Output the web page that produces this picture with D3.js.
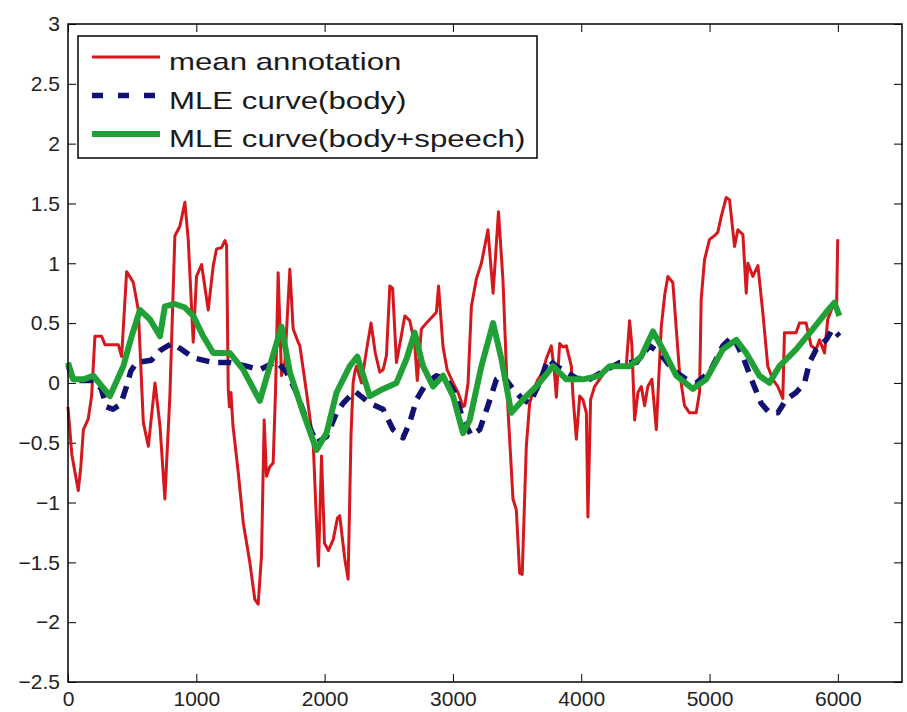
<!DOCTYPE html>
<html>
<head>
<meta charset="utf-8">
<script src="https://cdn.jsdelivr.net/npm/d3@7"></script>
<style>
  body { margin: 0; background: #fff; }
  svg { display: block; }
</style>
</head>
<body>
<svg width="907" height="712"></svg>
<script>
// x positions (frames) and values
var annotT = [0, 30, 80, 100, 120, 158, 184, 210, 262, 288, 392, 418, 457, 509, 548, 587, 626, 678, 717, 755, 794, 833, 872, 911, 937, 976,
    1002, 1041, 1093, 1132, 1158, 1197, 1223, 1236, 1249, 1258, 1270, 1285, 1327, 1366, 1417, 1456, 1482, 1508, 1529, 1547, 1573, 1599,
    1618, 1638, 1664, 1690, 1729, 1755, 1794, 1807, 1859, 1911, 1937, 1952, 1976, 1999, 2030, 2067, 2100, 2118, 2157, 2183, 2206, 2222,
    2235, 2248, 2287, 2326, 2362, 2395, 2430, 2456, 2482, 2508, 2530, 2560, 2599, 2625, 2664, 2702, 2722, 2754, 2793, 2845, 2871, 2888,
    2923, 2955, 3001, 3040, 3079, 3092, 3118, 3144, 3183, 3222, 3273, 3313, 3355, 3390, 3429, 3468, 3494, 3520, 3540, 3572, 3598, 3630,
    3663, 3702, 3727, 3767, 3790, 3806, 3832, 3858, 3884, 3923, 3936, 3962, 3988, 4013, 4040, 4052, 4073, 4104, 4143, 4182, 4234, 4286,
    4351, 4377, 4395, 4416, 4442, 4468, 4494, 4519, 4551, 4585, 4624, 4650, 4675, 4714, 4741, 4766, 4805, 4844, 4896, 4922, 4935, 4961,
    5000, 5039, 5065, 5091, 5130, 5156, 5195, 5221, 5260, 5286, 5299, 5338, 5377, 5415, 5454, 5493, 5532, 5571, 5584, 5623, 5675, 5701,
    5753, 5792, 5831, 5857, 5896, 5921, 5960, 5990, 5999];
var annotV = [-0.2, -0.6, -0.9, -0.7, -0.39, -0.3, -0.11, 0.39, 0.39, 0.32, 0.32, 0.22, 0.93, 0.84, 0.61, -0.33, -0.53, 0.0, -0.36, -0.97, -0.11, 1.23, 1.31, 1.51, 1.2, 0.34,
    0.89, 0.99, 0.61, 0.98, 1.12, 1.13, 1.19, 1.15, -0.05, -0.2, -0.08, -0.35, -0.75, -1.17, -1.5, -1.81, -1.85, -1.45, -0.31, -0.78, -0.7, -0.67,
    -0.05, 0.92, 0.06, 0.17, 0.95, 0.45, 0.34, 0.31, -0.08, -0.5, -1.17, -1.53, -0.61, -1.34, -1.4, -1.31, -1.13, -1.11, -1.47, -1.64, -0.43, 0.0,
    0.09, 0.14, 0.0, 0.27, 0.5, 0.25, 0.09, 0.11, 0.23, 0.81, 0.79, 0.17, 0.4, 0.56, 0.52, 0.33, 0.02, 0.45, 0.5, 0.56, 0.59, 0.81,
    0.3, 0.11, 0.0, -0.08, -0.2, -0.19, 0.0, 0.64, 0.87, 1.0, 1.28, 0.75, 1.43, 0.86, -0.22, -0.97, -1.06, -1.59, -1.6, -0.53, -0.17, -0.05,
    0.03, 0.09, 0.2, 0.31, 0.1, -0.12, 0.33, 0.3, 0.31, 0.14, -0.11, -0.47, -0.11, -0.14, -0.25, -1.12, -0.14, -0.03, 0.03, 0.09, 0.14, 0.14,
    0.14, 0.52, 0.31, -0.31, -0.08, -0.03, -0.19, -0.03, 0.03, -0.39, 0.47, 0.73, 0.89, 0.84, 0.45, 0.09, -0.19, -0.25, -0.25, -0.08, 0.7, 1.03,
    1.2, 1.23, 1.26, 1.39, 1.55, 1.53, 1.14, 1.28, 1.24, 0.75, 1.0, 0.89, 0.98, 0.59, 0.14, 0.03, -0.03, -0.13, 0.42, 0.42, 0.42, 0.5,
    0.5, 0.31, 0.28, 0.36, 0.25, 0.53, 0.64, 0.62, 1.2];

var bodyT = [0, 40, 100, 200, 260, 300, 350, 410, 450, 490, 535, 650, 717, 808, 886, 976, 1132, 1262, 1392, 1495, 1625, 1703, 1781, 1859,
    1937, 2015, 2093, 2144, 2235, 2352, 2456, 2533, 2611, 2664, 2716, 2794, 2871, 2949, 3014, 3079, 3144, 3209, 3273, 3339, 3390, 3468,
    3546, 3598, 3676, 3741, 3806, 3884, 3962, 4065, 4143, 4299, 4429, 4533, 4611, 4714, 4818, 4896, 5000, 5104, 5182, 5260, 5338, 5402,
    5467, 5532, 5597, 5675, 5740, 5779, 5831, 5909, 5960, 6012];
var bodyV = [0.15, 0.03, 0.02, 0.02, -0.05, -0.2, -0.22, -0.18, -0.05, 0.1, 0.17, 0.19, 0.27, 0.33, 0.28, 0.21, 0.17, 0.17, 0.14, 0.11, 0.18, 0.09, -0.08, -0.31,
    -0.5, -0.45, -0.25, -0.17, -0.07, -0.17, -0.22, -0.39, -0.46, -0.33, -0.14, 0.0, 0.06, 0.03, -0.08, -0.31, -0.44, -0.39, -0.19, 0.03, 0.06, -0.05,
    -0.14, -0.17, 0.0, 0.2, 0.14, 0.09, 0.04, 0.03, 0.08, 0.17, 0.17, 0.31, 0.25, 0.11, 0.03, 0.0, 0.09, 0.31, 0.39, 0.22, 0.0, -0.17,
    -0.25, -0.25, -0.14, -0.08, 0.0, 0.17, 0.28, 0.36, 0.45, 0.39];

var speechT = [0, 41, 120, 197, 327, 431, 496, 561, 639, 717, 755, 833, 911, 976, 1054, 1132, 1262, 1366, 1495, 1573, 1664, 1729, 1833, 1937,
    2015, 2093, 2196, 2255, 2352, 2456, 2560, 2638, 2702, 2767, 2845, 2923, 3001, 3079, 3131, 3222, 3313, 3378, 3455, 3546, 3650, 3780,
    3884, 4013, 4143, 4221, 4377, 4468, 4559, 4637, 4741, 4870, 4974, 5104, 5208, 5286, 5389, 5467, 5545, 5675, 5805, 5909, 5973, 6012];
var speechV = [0.17, 0.03, 0.03, 0.06, -0.11, 0.14, 0.39, 0.61, 0.53, 0.39, 0.64, 0.66, 0.63, 0.56, 0.39, 0.25, 0.25, 0.11, -0.15, 0.14, 0.47, 0.09, -0.25, -0.56,
    -0.42, -0.08, 0.14, 0.22, -0.11, -0.05, 0.0, 0.2, 0.42, 0.14, -0.03, 0.06, -0.11, -0.42, -0.31, 0.14, 0.5, 0.2, -0.25, -0.14, -0.03, 0.14,
    0.03, 0.03, 0.06, 0.14, 0.14, 0.22, 0.43, 0.28, 0.06, -0.05, 0.03, 0.28, 0.36, 0.25, 0.06, 0.0, 0.14, 0.28, 0.45, 0.59, 0.67, 0.56];

var xTicks = [0, 1000, 2000, 3000, 4000, 5000, 6000];
var yTicks = [-2.5, -2, -1.5, -1, -0.5, 0, 0.5, 1, 1.5, 2, 2.5, 3];
var yTickLabels = ["\u22122.5", "\u22122", "\u22121.5", "\u22121", "\u22120.5", "0", "0.5", "1", "1.5", "2", "2.5", "3"];

var seriesNames = ["mean annotation", "MLE curve(body)", "MLE curve(body+speech)"];

var svg = d3.select("svg"),
    margin = {top: 24, right: 5, bottom: 30, left: 68},
    width = +svg.attr("width") - margin.left - margin.right,
    height = +svg.attr("height") - margin.top - margin.bottom,
    g = svg.append("g").attr("transform", "translate(" + margin.left + "," + margin.top + ")");

var x = d3.scaleLinear().domain([0, 6500]).range([0, width]),
    y = d3.scaleLinear().domain([-2.5, 3]).range([height, 0]);

var fontFamily = "'Liberation Sans', Arial, Helvetica, sans-serif";

g.append("rect")
    .attr("width", width)
    .attr("height", height)
    .attr("fill", "#fff");

function styleAxis(sel) {
    sel.select(".domain").remove();
    sel.selectAll(".tick line").attr("stroke", "#000").attr("stroke-width", 1);
    sel.selectAll(".tick text")
        .attr("fill", "#222")
        .style("font-family", fontFamily)
        .style("font-size", "21px");
}

g.append("g")
    .attr("transform", "translate(0," + height + ")")
    .call(d3.axisBottom(x).tickValues(xTicks).tickFormat(d3.format("d")).tickSizeInner(-8).tickSizeOuter(0).tickPadding(9))
    .call(styleAxis);

g.append("g")
    .call(d3.axisTop(x).tickValues(xTicks).tickFormat("").tickSizeInner(-8).tickSizeOuter(0))
    .call(styleAxis);

g.append("g")
    .call(d3.axisLeft(y).tickValues(yTicks).tickFormat(function(d, i) { return yTickLabels[i]; })
        .tickSizeInner(-8).tickSizeOuter(0).tickPadding(8))
    .call(styleAxis);

g.append("g")
    .attr("transform", "translate(" + width + ",0)")
    .call(d3.axisRight(y).tickValues(yTicks).tickFormat("").tickSizeInner(-8).tickSizeOuter(0))
    .call(styleAxis);

function toPoints(ts, vs) {
    return ts.map(function(t, i) { return {t: t, v: vs[i]}; });
}

var line = d3.line()
    .x(function(d) { return x(d.t); })
    .y(function(d) { return y(d.v); });

var series = [
    {id: seriesNames[0], values: toPoints(annotT, annotV), color: "#d4181c", width: 3, dash: null},
    {id: seriesNames[1], values: toPoints(bodyT, bodyV), color: "#111173", width: 5.5, dash: "13,9"},
    {id: seriesNames[2], values: toPoints(speechT, speechV), color: "#21a035", width: 6, dash: null}
];

g.selectAll(".series")
    .data(series)
    .enter().append("path")
    .attr("class", "series")
    .attr("fill", "none")
    .attr("stroke", function(d) { return d.color; })
    .attr("stroke-width", function(d) { return d.width; })
    .attr("stroke-dasharray", function(d) { return d.dash; })
    .attr("stroke-linejoin", "round")
    .attr("d", function(d) { return line(d.values); });

// axes box
g.append("rect")
    .attr("width", width)
    .attr("height", height)
    .attr("fill", "none")
    .attr("stroke", "#000")
    .attr("stroke-width", 1.5);

// legend
var legend = svg.append("g").attr("transform", "translate(78,36)");
legend.append("rect")
    .attr("width", 459)
    .attr("height", 122)
    .attr("fill", "#fff")
    .attr("stroke", "#000")
    .attr("stroke-width", 1.5);

var item = legend.selectAll(".item")
    .data(series)
    .enter().append("g")
    .attr("class", "item")
    .attr("transform", function(d, i) { return "translate(0," + (21 + i * 38.5) + ")"; });

item.append("line")
    .attr("x1", 14).attr("x2", 82)
    .attr("stroke", function(d) { return d.color; })
    .attr("stroke-width", function(d) { return d.width; })
    .attr("stroke-dasharray", function(d) { return d.dash ? "11,15" : null; });

// the legend text in the picture is wide, so stretch it sideways
item.append("text")
    .attr("transform", "translate(91,13) scale(1.3,1)")
    .attr("fill", "#1a1a1a")
    .style("font-family", fontFamily)
    .style("font-size", "24px")
    .text(function(d) { return d.id; });
</script>
</body>
</html>
